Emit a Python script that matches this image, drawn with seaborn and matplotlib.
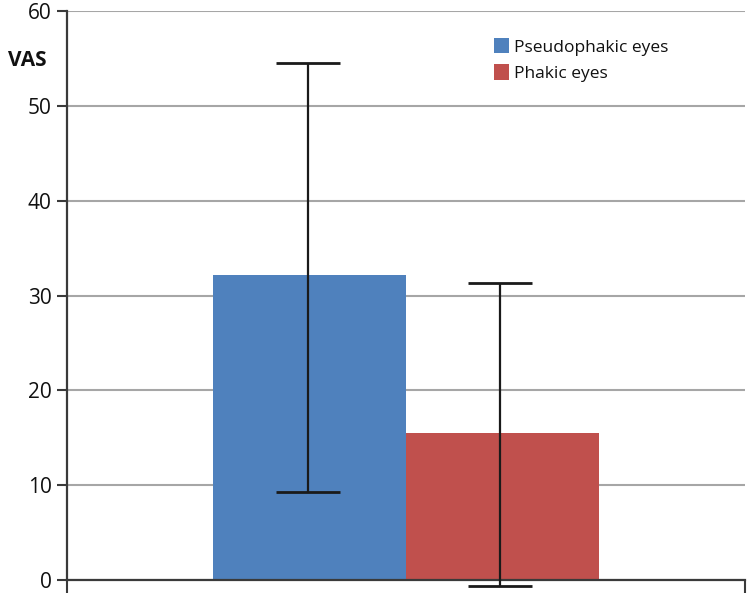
import numpy as np
import pandas as pd
import matplotlib
matplotlib.use("Agg")
import matplotlib.pyplot as plt
import seaborn as sns

# ------------------------------------------------------------
# Donnees (VAS)
# ------------------------------------------------------------
groups = ["Pseudophakic eyes", "Phakic eyes"]
vas_mean = [32.2, 15.5]
err_low = [9.3, -0.6]
err_high = [54.5, 31.3]
bar_colors = ["#4F81BD", "#C0504D"]
y_ticks = [0, 10, 20, 30, 40, 50, 60]

df = pd.DataFrame({"category": ["all"] * len(groups),
                   "group": groups,
                   "VAS": vas_mean})

sns.set_style("white")
plt.rcParams["font.family"] = ["Open Sans", "DejaVu Sans"]

fig = plt.figure(figsize=(7.48, 5.93), dpi=100)
ax = fig.add_axes([67 / 748, 1 - 580 / 593, (745 - 67) / 748, (580 - 11) / 593])

sns.barplot(data=df, x="category", y="VAS", hue="group",
            palette=bar_colors, width=0.568, errorbar=None,
            saturation=1, linewidth=0, ax=ax, zorder=2)

# Barres d'erreur (asymetriques)
for container, m, lo, hi in zip(ax.containers, vas_mean, err_low, err_high):
    bar = container[0]
    xc = bar.get_x() + bar.get_width() / 2 - 2 / 678
    eb = ax.errorbar([xc], [m], yerr=[[m - lo], [hi - m]], fmt="none",
                     ecolor="#1a1a1a", elinewidth=1.6, capsize=23,
                     capthick=2.0, zorder=3)
    for art in list(eb.lines[1]) + list(eb.lines[2]):
        art.set_clip_on(False)

ax.set_xlim(-0.5, 0.5)
ax.set_ylim(0, 60)
ax.set_yticks(y_ticks)
ax.set_xticks([-0.5, 0.5])
ax.set_xticklabels([])
ax.set_xlabel("")
ax.set_ylabel("")

ax.set_axisbelow(True)
ax.yaxis.grid(True, color="#a6a6a6", linewidth=1.5)
ax.xaxis.grid(False)

for side in ["top", "right"]:
    ax.spines[side].set_visible(False)
for side in ["left", "bottom"]:
    ax.spines[side].set_color("#3a3a3a")
    ax.spines[side].set_linewidth(1.6)

ax.tick_params(axis="y", direction="out", length=7, width=1.5,
               color="#3a3a3a", labelsize=15, labelcolor="#111111", pad=4)
ax.tick_params(axis="x", direction="out", length=9, width=1.5,
               color="#3a3a3a")
ax.yaxis.set_ticks_position("left")
ax.xaxis.set_ticks_position("bottom")

fig.text(27 / 748, 1 - 60 / 593, "VAS", ha="center", va="center",
         fontsize=15, fontweight="bold", color="#111111")

leg = ax.legend(loc="upper left", bbox_to_anchor=(0.62, 0.965),
                frameon=False, fontsize=12.5, handlelength=0.85,
                handleheight=1.0, handletextpad=0.3, labelspacing=0.5,
                borderaxespad=0)
for t in leg.get_texts():
    t.set_color("#111111")

plt.savefig("out.png", dpi=100)
